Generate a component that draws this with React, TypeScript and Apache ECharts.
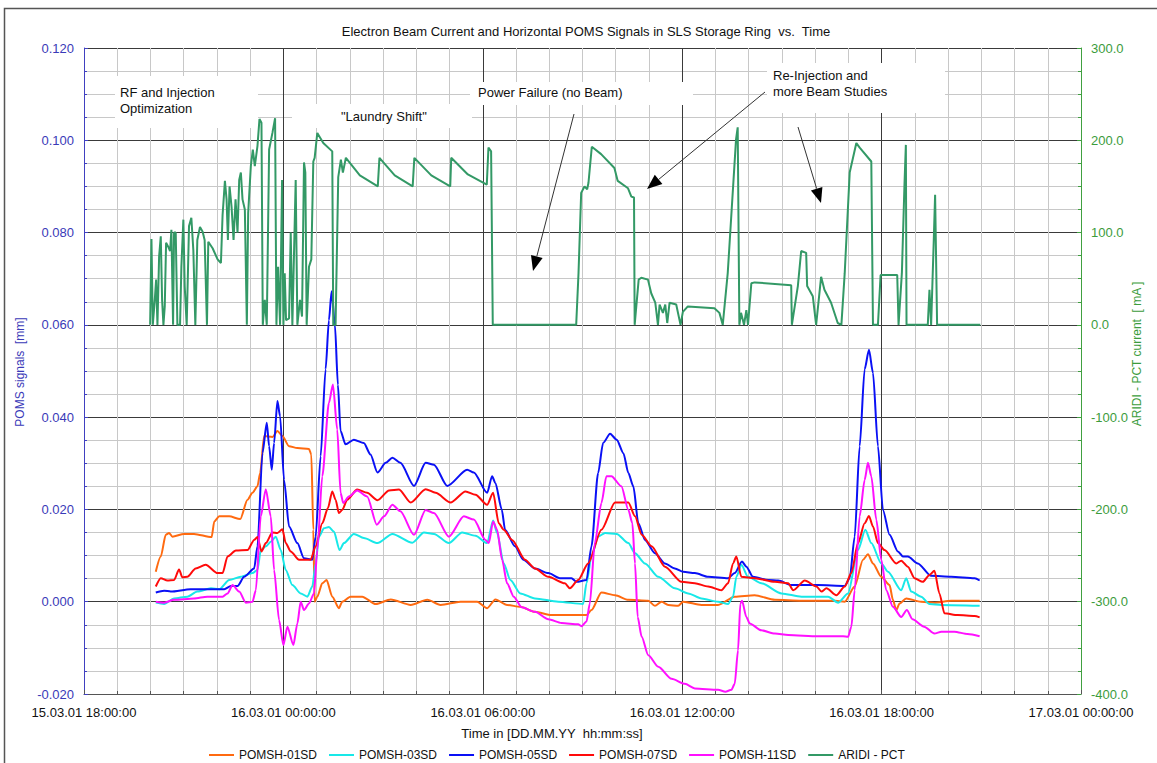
import React, { useEffect, useRef } from "react";
import * as echarts from "echarts";

// ---- categories / names ----
const seriesNames = ["POMSH-01SD", "POMSH-03SD", "POMSH-05SD", "POMSH-07SD", "POMSH-11SD", "ARIDI - PCT"];
const seriesColors = ["#ff6a10", "#18e8e8", "#0a10f5", "#ff0a0a", "#ff10ff", "#339966"];

// x values: hours since 15.03.01 00:00:00 ; y: POMS signals [mm]
const pomsh01: [number, number][] = [
  [20.16, 0.0065], [20.31, 0.0098], [20.46, 0.0145], [20.56, 0.0149], [20.66, 0.0141], [21.01, 0.0147], [21.31, 0.0147],
  [21.84, 0.014], [21.92, 0.0174], [22.07, 0.0185], [22.37, 0.0185], [22.7, 0.0179], [22.92, 0.0221], [23.07, 0.0236],
  [23.22, 0.025], [23.3, 0.0279], [23.42, 0.0359], [23.67, 0.0357], [23.82, 0.037], [23.97, 0.0359], [24.17, 0.0337],
  [24.42, 0.0333], [24.77, 0.0331], [24.84, 0.0319], [24.9, 0.0156], [24.94, 0.0], [25.02, 0.0011], [25.17, 0.004],
  [25.3, 0.0047], [25.47, 0.0011], [25.67, -0.0014], [25.77, 0.0], [26.02, 0.0011], [26.37, 0.0011], [26.78, -0.0005],
  [27.23, 0.0005], [27.83, -0.0007], [28.33, 0.0004], [28.73, -0.0007], [29.33, 0.0], [29.83, 0.0], [30.13, -0.0014],
  [30.38, 0.0005], [30.73, -0.0007], [31.13, -0.0011], [31.57, -0.0022], [32.07, -0.0029], [33.12, -0.0029],
  [33.27, -0.0018], [33.57, 0.002], [33.98, 0.0014], [34.38, 0.0004], [34.98, 0.0002], [35.18, -0.0009], [35.38, 0.0],
  [35.58, -0.0007], [35.88, -0.0009], [36.03, 0.0], [36.58, -0.0007], [37.08, -0.0007], [37.58, 0.0011], [38.18, 0.0014],
  [38.79, 0.0004], [39.59, 0.0002], [40.59, 0.0002], [40.89, 0.0], [41.19, 0.0033], [41.44, 0.0091], [41.59, 0.0103],
  [41.74, 0.0083], [41.99, 0.0054], [42.24, 0.0036], [42.34, 0.0004], [42.44, -0.0018], [42.54, -0.0004], [42.74, 0.0007],
  [43.19, 0.0], [43.59, -0.0002], [44.09, 0.0002], [44.95, 0.0002],
];

const pomsh03: [number, number][] = [
  [20.16, -0.0002], [20.41, -0.0005], [20.71, 0.0007], [21.11, 0.0011], [21.41, 0.0022], [21.82, 0.0029], [22.07, 0.0027],
  [22.37, 0.0047], [22.72, 0.0054], [23.07, 0.0062], [23.22, 0.0069], [23.32, 0.0112], [23.47, 0.012], [23.62, 0.013],
  [23.77, 0.0141], [23.92, 0.0112], [24.07, 0.0069], [24.27, 0.0036], [24.52, 0.0018], [24.72, 0.0011], [24.87, 0.0033],
  [24.97, 0.0083], [25.07, 0.0141], [25.22, 0.0159], [25.37, 0.0162], [25.52, 0.0152], [25.69, 0.0112], [25.82, 0.0127],
  [26.12, 0.0147], [26.42, 0.0138], [26.83, 0.0127], [27.28, 0.0147], [27.88, 0.0128], [28.23, 0.015], [28.53, 0.0147],
  [28.98, 0.0127], [29.38, 0.015], [29.78, 0.0143], [30.13, 0.0127], [30.31, 0.0176], [30.43, 0.0149], [30.63, 0.0083],
  [30.83, 0.0047], [31.13, 0.0018], [31.57, 0.0007], [32.27, 0.0], [33.02, -0.0005], [33.12, 0.004], [33.27, 0.0098],
  [33.47, 0.0141], [33.68, 0.0149], [34.03, 0.0147], [34.38, 0.0127], [34.58, 0.0105], [34.88, 0.0083], [35.28, 0.0054],
  [35.78, 0.0029], [36.18, 0.0018], [36.58, 0.0007], [37.08, 0.0], [37.38, -0.0005], [37.53, 0.0011], [37.63, 0.0054],
  [37.78, 0.008], [37.98, 0.0054], [38.38, 0.004], [38.99, 0.0018], [39.59, 0.0011], [40.39, 0.0011], [40.69, -0.0002],
  [40.99, 0.0018], [41.29, 0.0112], [41.51, 0.0156], [41.69, 0.0127], [41.99, 0.0083], [42.19, 0.0065], [42.59, 0.0025],
  [42.74, 0.0051], [42.89, 0.0022], [43.19, 0.0011], [43.44, -0.0005], [43.8, -0.0007], [44.95, -0.0009],
];

const pomsh05: [number, number][] = [
  [20.16, 0.002], [20.41, 0.0024], [20.61, 0.0022], [21.21, 0.0027], [22.22, 0.0027], [22.42, 0.0034], [22.62, 0.0034],
  [22.82, 0.0054], [23.12, 0.0072], [23.22, 0.012], [23.37, 0.0322], [23.5, 0.0388], [23.57, 0.0337], [23.65, 0.0286],
  [23.72, 0.0344], [23.82, 0.0435], [23.9, 0.0402], [24.02, 0.0264], [24.17, 0.0163], [24.42, 0.0127], [24.62, 0.0094],
  [24.87, 0.0091], [24.97, 0.0141], [25.12, 0.0315], [25.27, 0.0504], [25.37, 0.061], [25.45, 0.0673], [25.55, 0.06],
  [25.64, 0.047], [25.72, 0.037], [25.87, 0.0341], [26.12, 0.0351], [26.42, 0.0344], [26.62, 0.0319], [26.83, 0.028],
  [27.08, 0.0301], [27.28, 0.0312], [27.52, 0.0301], [27.93, 0.0251], [28.28, 0.0301], [28.53, 0.0297], [28.93, 0.0251],
  [29.53, 0.0286], [29.73, 0.028], [30.13, 0.0236], [30.28, 0.0272], [30.38, 0.0257], [30.57, 0.02], [30.67, 0.0156],
  [30.97, 0.012], [31.22, 0.0091], [31.57, 0.0072], [31.97, 0.0062], [32.32, 0.0051], [32.67, 0.0051], [32.82, 0.0043],
  [33.12, 0.0047], [33.27, 0.012], [33.47, 0.0279], [33.62, 0.0344], [33.83, 0.0364], [34.03, 0.0351], [34.23, 0.0322],
  [34.38, 0.0279], [34.53, 0.025], [34.68, 0.017], [34.88, 0.0134], [35.18, 0.0105], [35.48, 0.0083], [35.78, 0.0072],
  [36.03, 0.0065], [36.38, 0.0062], [36.78, 0.0054], [37.38, 0.0051], [37.58, 0.0062], [37.8, 0.0087], [37.93, 0.0076],
  [38.13, 0.0054], [38.59, 0.0047], [38.89, 0.0046], [39.29, 0.0036], [40.09, 0.0036], [40.89, 0.0034], [41.04, 0.0051],
  [41.19, 0.0141], [41.34, 0.0337], [41.49, 0.0504], [41.62, 0.0546], [41.74, 0.0496], [41.89, 0.0337], [42.04, 0.0199],
  [42.24, 0.0145], [42.49, 0.0109], [42.64, 0.0098], [42.79, 0.0098], [43.09, 0.0083], [43.49, 0.0056], [44.09, 0.0054],
  [44.8, 0.0051], [44.95, 0.0046],
];

const pomsh07: [number, number][] = [
  [20.16, 0.0033], [20.31, 0.0051], [20.51, 0.0046], [20.71, 0.0047], [20.86, 0.007], [20.96, 0.0053], [21.11, 0.0054],
  [21.36, 0.0072], [21.66, 0.008], [22.02, 0.0062], [22.17, 0.0062], [22.32, 0.0098], [22.57, 0.0111], [22.92, 0.0112],
  [23.12, 0.0134], [23.22, 0.014], [23.34, 0.0109], [23.47, 0.0127], [23.67, 0.015], [23.82, 0.0149], [23.97, 0.0157],
  [24.07, 0.0127], [24.22, 0.0109], [24.47, 0.0091], [24.82, 0.0091], [24.97, 0.012], [25.17, 0.017], [25.34, 0.0203],
  [25.47, 0.0239], [25.57, 0.0221], [25.67, 0.0192], [25.77, 0.0199], [25.92, 0.0221], [26.22, 0.0243], [26.52, 0.0236],
  [26.83, 0.022], [27.18, 0.0241], [27.48, 0.0243], [27.83, 0.0215], [28.28, 0.0244], [28.58, 0.0236], [29.03, 0.0215],
  [29.48, 0.0239], [29.78, 0.0232], [30.13, 0.021], [30.31, 0.0236], [30.48, 0.017], [30.63, 0.0156], [30.88, 0.0134],
  [31.27, 0.0091], [31.57, 0.0072], [31.97, 0.0054], [32.47, 0.004], [32.62, 0.0029], [32.87, 0.0047], [33.17, 0.0083],
  [33.57, 0.0156], [33.98, 0.0215], [34.38, 0.0215], [34.58, 0.0185], [34.78, 0.0145], [35.08, 0.012], [35.48, 0.0076],
  [35.98, 0.0043], [36.38, 0.004], [36.78, 0.0033], [37.18, 0.0025], [37.38, 0.004], [37.53, 0.0083], [37.63, 0.0098],
  [37.78, 0.0054], [38.18, 0.0051], [38.79, 0.0043], [39.19, 0.004], [39.34, 0.0025], [39.69, 0.0046], [40.04, 0.0033],
  [40.19, 0.0022], [40.34, 0.0029], [40.64, 0.0014], [40.89, 0.0033], [41.09, 0.0062], [41.29, 0.0127], [41.49, 0.017],
  [41.62, 0.0186], [41.74, 0.0163], [41.89, 0.0127], [42.09, 0.0112], [42.44, 0.0083], [42.59, 0.0089], [42.79, 0.0076],
  [42.99, 0.0051], [43.24, 0.0043], [43.44, 0.0058], [43.59, 0.0067], [43.74, 0.0018], [43.89, -0.0025], [44.29, -0.0029],
  [44.8, -0.0031], [44.95, -0.0034],
];

const pomsh11: [number, number][] = [
  [20.16, 0.0], [20.41, -0.0002], [20.71, 0.0004], [21.31, 0.0007], [21.71, 0.0011], [22.17, 0.0011], [22.32, 0.0018],
  [22.47, 0.0036], [22.67, 0.0022], [22.87, -0.0002], [23.07, 0.0], [23.17, 0.0025], [23.32, 0.0185], [23.47, 0.0244],
  [23.62, 0.0185], [23.72, 0.0069], [23.87, -0.004], [24.0, -0.0094], [24.12, -0.0054], [24.3, -0.0094], [24.42, -0.0047],
  [24.52, 0.0], [24.62, -0.0018], [24.77, -0.0004], [24.92, 0.0018], [25.02, 0.0112], [25.17, 0.0272], [25.37, 0.0431],
  [25.49, 0.0471], [25.62, 0.0373], [25.72, 0.0236], [25.8, 0.0214], [25.97, 0.0228], [26.22, 0.0241], [26.52, 0.0228],
  [26.81, 0.0167], [27.03, 0.0185], [27.28, 0.021], [27.52, 0.0196], [27.93, 0.0145], [28.28, 0.0199], [28.53, 0.0192],
  [28.98, 0.0141], [29.43, 0.0185], [29.73, 0.0178], [30.08, 0.0134], [30.18, 0.0127], [30.31, 0.0174], [30.43, 0.0156],
  [30.58, 0.0091], [30.73, 0.004], [30.93, 0.0011], [31.17, -0.0012], [31.57, -0.0022], [31.97, -0.0038], [32.37, -0.0046],
  [32.87, -0.0049], [32.97, -0.0053], [33.12, -0.0043], [33.22, -0.0004], [33.37, 0.0127], [33.57, 0.0214], [33.72, 0.0272],
  [33.87, 0.0272], [34.17, 0.025], [34.38, 0.0199], [34.5, 0.017], [34.58, 0.0083], [34.66, -0.0033], [34.78, -0.0076],
  [34.98, -0.0116], [35.28, -0.0141], [35.68, -0.0167], [36.08, -0.0178], [36.38, -0.0188], [37.08, -0.0191], [37.3, -0.0195],
  [37.48, -0.0191], [37.58, -0.0178], [37.68, -0.0105], [37.75, -0.0004], [37.8, 0.0002], [37.93, -0.0033], [38.03, -0.0047],
  [38.38, -0.0062], [38.79, -0.0069], [39.19, -0.0072], [40.09, -0.0075], [40.84, -0.0075], [40.99, -0.0076], [41.09, -0.0054],
  [41.19, 0.0025], [41.34, 0.0185], [41.49, 0.0264], [41.59, 0.0301], [41.69, 0.0272], [41.84, 0.0178], [41.99, 0.0091],
  [42.14, 0.0025], [42.34, -0.0011], [42.59, -0.0033], [42.76, -0.0018], [42.93, -0.0038], [43.28, -0.0054], [43.59, -0.0069],
  [43.8, -0.0065], [44.19, -0.0065], [44.59, -0.007], [44.95, -0.0075],
];

// ARIDI - PCT beam current [mA]
const aridiPct: [number, number][] = [
  [19.99, 0], [20.03, 93], [20.07, 0], [20.13, 27], [20.17, 49], [20.21, 0], [20.26, 74], [20.31, 96], [20.35, 27],
  [20.39, 0], [20.43, 20], [20.47, 89], [20.53, 85], [20.59, 80], [20.63, 103], [20.68, 0], [20.71, 100], [20.76, 100],
  [20.81, 0], [20.89, 0], [20.93, 63], [20.99, 114], [21.03, 42], [21.09, 0], [21.16, 107], [21.23, 116], [21.29, 81],
  [21.35, 0], [21.41, 92], [21.49, 106], [21.57, 101], [21.63, 92], [21.7, 0], [21.74, 90], [21.87, 83], [22.02, 71],
  [22.12, 67], [22.17, 119], [22.24, 156], [22.29, 136], [22.33, 92], [22.38, 150], [22.44, 128], [22.5, 92], [22.56, 136],
  [22.62, 100], [22.67, 157], [22.72, 165], [22.77, 136], [22.84, 125], [22.9, 0], [22.94, 121], [23.02, 172], [23.08, 190],
  [23.14, 172], [23.22, 194], [23.28, 223], [23.34, 219], [23.38, 0], [23.44, 27], [23.5, 0], [23.57, 190], [23.67, 208],
  [23.75, 224], [23.79, 0], [23.84, 63], [23.9, 0], [23.96, 157], [24.0, 0], [24.04, 56], [24.08, 5], [24.17, 7],
  [24.22, 100], [24.27, 0], [24.32, 78], [24.37, 157], [24.42, 0], [24.5, 27], [24.56, 9], [24.62, 176], [24.66, 165],
  [24.7, 0], [24.77, 63], [24.84, 71], [24.9, 177], [24.94, 181], [25.02, 208], [25.2, 197], [25.47, 188], [25.5, 0],
  [25.57, 0], [25.65, 160], [25.73, 179], [25.79, 165], [25.88, 181], [26.3, 162], [26.84, 150], [26.89, 181], [27.35, 162],
  [27.89, 150], [27.94, 181], [28.45, 162], [29.02, 150], [29.05, 181], [29.55, 163], [30.12, 152], [30.17, 192],
  [30.25, 188], [30.3, 0], [32.81, 0], [32.88, 56], [32.96, 143], [33.06, 150], [33.14, 147], [33.18, 154], [33.28, 193],
  [33.56, 185], [33.96, 170], [34.06, 156], [34.37, 148], [34.47, 139], [34.55, 138], [34.57, 0], [34.69, 49], [34.77, 51],
  [34.97, 49], [35.07, 34], [35.19, 24], [35.27, 0], [35.32, 22], [35.42, 13], [35.49, 22], [35.55, 2], [35.62, 24],
  [35.82, 22], [35.95, 0], [36.02, 14], [36.17, 20], [36.97, 18], [37.12, 13], [37.22, 0], [37.37, 56], [37.62, 201],
  [37.67, 214], [37.72, 0], [37.77, 13], [37.86, 0], [37.93, 16], [37.98, 0], [38.08, 45], [38.18, 46], [39.28, 43],
  [39.3, 0], [39.48, 42], [39.58, 80], [39.73, 78], [39.76, 42], [39.93, 31], [40.03, 0], [40.18, 52], [40.28, 38],
  [40.48, 24], [40.68, 2], [40.79, 0], [40.89, 56], [41.04, 165], [41.24, 197], [41.34, 192], [41.69, 177], [41.74, 0],
  [41.89, 0], [41.97, 54], [42.47, 54], [42.51, 0], [42.61, 56], [42.69, 154], [42.73, 195], [42.75, 0], [43.39, 0],
  [43.44, 38], [43.49, 0], [43.57, 92], [43.61, 141], [43.67, 0], [44.97, 0],
];

// axis ranges / ticks
const xMinHour = 18;
const xMaxHour = 48;
const xStepHour = 6;
const leftMin = -0.02;
const leftMax = 0.12;
const leftStep = 0.02;
const rightMin = -400;
const rightMax = 300;
const rightStep = 100;

const FONT = '"Liberation Sans", Arial, Helvetica, sans-serif';

function pad(n: number) {
  return n < 10 ? "0" + n : "" + n;
}
function fmtHour(h: number) {
  const r = Math.round(h);
  const day = 15 + Math.floor(r / 24);
  const hr = r % 24;
  return `${day}.03.01 ${pad(hr)}:00:00`;
}

function arrow(x1: number, y1: number, x2: number, y2: number) {
  const ang = Math.atan2(y2 - y1, x2 - x1);
  const L = 15, W = 6;
  const bx = x2 - L * Math.cos(ang), by = y2 - L * Math.sin(ang);
  const px = -Math.sin(ang) * W, py = Math.cos(ang) * W;
  return [
    { type: "line", z: 30, shape: { x1, y1, x2: bx, y2: by }, style: { stroke: "#333", lineWidth: 1 } },
    { type: "polygon", z: 30, shape: { points: [[x2, y2], [bx + px, by + py], [bx - px, by - py]] }, style: { fill: "#000" } },
  ];
}

function whiteBox(x: number, y: number, w: number, h: number) {
  return { type: "rect", z: 1, shape: { x, y, width: w, height: h }, style: { fill: "#ffffff" } };
}
function label(text: string, x: number, y: number, extra: any = {}) {
  return {
    type: "text",
    z: 30,
    x,
    y,
    style: { text, font: `13px ${FONT}`, fill: "#111", textAlign: "left", textVerticalAlign: "middle", ...extra },
  };
}

export default function App() {
  const ref = useRef<HTMLDivElement>(null);
  useEffect(() => {
    document.body.style.margin = "0";
    if (!ref.current) return;
    const chart = echarts.init(ref.current, undefined, { renderer: "svg" });
    const pomsData = [pomsh01, pomsh03, pomsh05, pomsh07, pomsh11];
    const series: any[] = pomsData.map((d, i) => ({
      name: seriesNames[i],
      type: "line",
      yAxisIndex: 0,
      data: d,
      symbol: "none",
      smooth: 0.25,
      smoothMonotone: "x",
      z: 3,
      lineStyle: { color: seriesColors[i], width: 2 },
      itemStyle: { color: seriesColors[i] },
    }));
    series.push({
      name: seriesNames[5],
      type: "line",
      yAxisIndex: 1,
      data: aridiPct,
      symbol: "none",
      z: 3,
      lineStyle: { color: seriesColors[5], width: 2 },
      itemStyle: { color: seriesColors[5] },
    });

    const graphic: any[] = [
      { type: "rect", z: 0, shape: { x: 4.5, y: 8.5, width: 1200, height: 800 }, style: { fill: "none", stroke: "#555", lineWidth: 1.5 } },
      {
        type: "text", z: 30, x: 586, y: 31,
        style: { text: "Electron Beam Current and Horizontal POMS Signals in SLS Storage Ring  vs.  Time", font: `13px ${FONT}`, fill: "#111", textAlign: "center", textVerticalAlign: "middle" },
      },
      {
        type: "text", z: 30, x: 20, y: 372, rotation: Math.PI / 2,
        style: { text: "POMS signals  [mm]", font: `12px ${FONT}`, fill: "#3a3ab8", textAlign: "center", textVerticalAlign: "middle" },
      },
      {
        type: "text", z: 30, x: 1137, y: 354, rotation: Math.PI / 2,
        style: { text: "ARIDI - PCT current  [ mA ]", font: `12px ${FONT}`, fill: "#3c9c3c", textAlign: "center", textVerticalAlign: "middle" },
      },
      {
        type: "text", z: 30, x: 552, y: 733,
        style: { text: "Time in [DD.MM.YY  hh:mm:ss]", font: `13px ${FONT}`, fill: "#111", textAlign: "center", textVerticalAlign: "middle" },
      },
      whiteBox(115, 76, 143, 52),
      whiteBox(292, 104, 180, 24),
      whiteBox(470, 82, 223, 23),
      whiteBox(767, 63, 178, 50),
      label("RF and Injection", 120, 92),
      label("Optimization", 120, 108),
      label('"Laundry Shift"', 341, 116),
      label("Power Failure (no Beam)", 478, 92),
      label("Re-Injection and", 773, 75),
      label("more Beam Studies", 773, 91),
      ...arrow(574, 114, 533, 271),
      ...arrow(765, 92, 647, 189),
      ...arrow(798, 127, 821, 203),
    ];

    chart.setOption({
      animation: false,
      backgroundColor: "#ffffff",
      textStyle: { fontFamily: FONT },
      grid: { left: 84, right: 76, top: 48, bottom: 69, containLabel: false },
      legend: {
        data: seriesNames,
        left: 204,
        top: 744,
        icon: "rect",
        itemWidth: 25,
        itemHeight: 2,
        itemGap: 12,
        textStyle: { fontSize: 12, color: "#111", fontFamily: FONT },
      },
      xAxis: {
        type: "value",
        min: xMinHour,
        max: xMaxHour,
        interval: xStepHour,
        axisLine: { show: true, onZero: false, lineStyle: { color: "#555", width: 1 } },
        axisTick: { show: true, inside: true, length: 4, lineStyle: { color: "#555" } },
        minorTick: { show: true, splitNumber: 6, length: 3, lineStyle: { color: "#555" } },
        axisLabel: { formatter: (v: number) => fmtHour(v), color: "#111", fontSize: 13, fontFamily: FONT, margin: 12 },
        splitLine: { show: true, lineStyle: { color: "#3a3a3a", width: 1 } },
        minorSplitLine: { show: true, lineStyle: { color: "#c8c8c8", width: 1 } },
        z: 0,
      },
      yAxis: [
        {
          type: "value",
          position: "left",
          min: leftMin,
          max: leftMax,
          interval: leftStep,
          axisLine: { show: true, onZero: false, lineStyle: { color: "#4040c0", width: 1 } },
          axisTick: { show: true, inside: true, length: 4, lineStyle: { color: "#4040c0" } },
          minorTick: { show: true, splitNumber: 4, length: 3, lineStyle: { color: "#4040c0" } },
          axisLabel: { formatter: (v: number) => v.toFixed(3), color: "#3a3ab8", fontSize: 13, fontFamily: FONT, margin: 10 },
          splitLine: { show: true, lineStyle: { color: "#3a3a3a", width: 1 } },
          minorSplitLine: { show: true, lineStyle: { color: "#c8c8c8", width: 1 } },
          z: 0,
        },
        {
          type: "value",
          position: "right",
          min: rightMin,
          max: rightMax,
          interval: rightStep,
          axisLine: { show: true, onZero: false, lineStyle: { color: "#40a040", width: 1 } },
          axisTick: { show: true, inside: true, length: 4, lineStyle: { color: "#40a040" } },
          minorTick: { show: true, splitNumber: 4, length: 3, lineStyle: { color: "#40a040" } },
          axisLabel: { formatter: (v: number) => v.toFixed(1), color: "#3c9c3c", fontSize: 13, fontFamily: FONT, margin: 10 },
          splitLine: { show: false },
          z: 0,
        },
      ],
      series,
      graphic,
    });
    return () => chart.dispose();
  }, []);
  return <div ref={ref} style={{ width: 1157, height: 763 }} />;
}
